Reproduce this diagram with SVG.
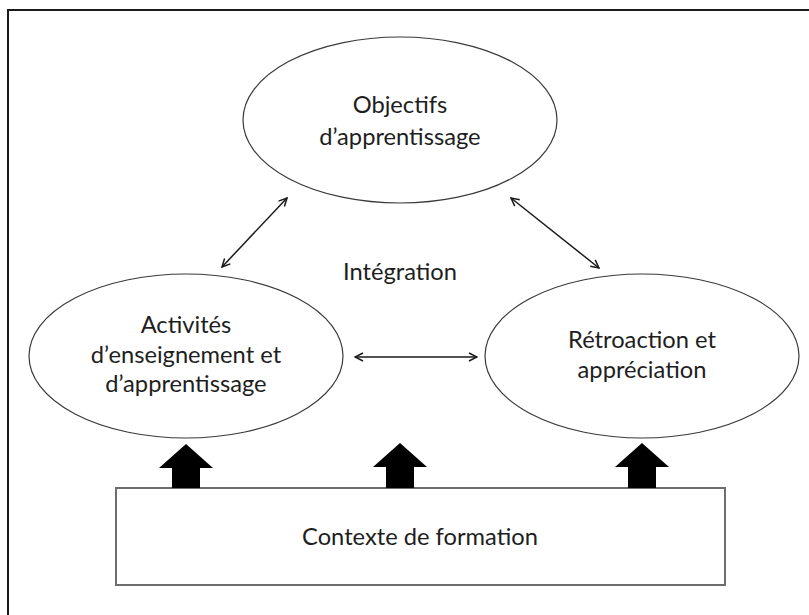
<svg xmlns="http://www.w3.org/2000/svg" width="809" height="615" viewBox="0 0 809 615">
  <style>
    .bg { fill: #ffffff; }
    .frame { fill: none; stroke: #1a1a1a; stroke-width: 2; }
    .oval { fill: #ffffff; stroke: #3a3a3a; stroke-width: 1.2; }
    .box { fill: #ffffff; stroke: #6e6e6e; stroke-width: 2; }
    .lbl { font-family: Lato, "Liberation Sans", sans-serif; font-size: 23.7px; fill: #1e1e1e; text-anchor: middle; }
    .link { stroke: #1a1a1a; stroke-width: 1.5; fill: none; marker-start: url(#head); marker-end: url(#head); }
    .push { fill: #000000; }
  </style>
  <defs>
    <marker id="head" viewBox="0 0 10 10" refX="9" refY="5" markerWidth="10" markerHeight="10" markerUnits="userSpaceOnUse" orient="auto-start-reverse">
      <path d="M1,1 L9,5 L1,9" fill="none" stroke="#1a1a1a" stroke-width="1.5"/>
    </marker>
  </defs>

  <rect class="bg" x="0" y="0" width="809" height="615"/>
  <!-- outer frame, open to the right and bottom edges -->
  <rect class="frame" x="8" y="10" width="820" height="630"/>

  <g id="objectifs">
    <ellipse class="oval" cx="400" cy="120" rx="157" ry="83"/>
    <text class="lbl" x="400" y="113">Objectifs</text>
    <text class="lbl" x="400" y="145">d’apprentissage</text>
  </g>

  <g id="activites">
    <ellipse class="oval" cx="186" cy="356" rx="157" ry="82"/>
    <text class="lbl" x="186" y="333">Activités</text>
    <text class="lbl" x="186" y="363">d’enseignement et</text>
    <text class="lbl" x="186" y="392">d’apprentissage</text>
  </g>

  <g id="retroaction">
    <ellipse class="oval" cx="642" cy="356" rx="157" ry="82"/>
    <text class="lbl" x="642" y="348">Rétroaction et</text>
    <text class="lbl" x="642" y="378">appréciation</text>
  </g>

  <g id="integration">
    <text class="lbl" x="400" y="280">Intégration</text>
  </g>

  <g id="contexte">
    <rect class="box" x="116" y="488" width="609" height="97"/>
    <text class="lbl" x="420" y="545">Contexte de formation</text>
  </g>

  <g id="connectors">
    <line class="link" x1="222" y1="267" x2="287" y2="198"/>
    <line class="link" x1="511" y1="198" x2="599" y2="268"/>
    <line class="link" x1="355" y1="357" x2="477" y2="357"/>
    <path class="push" d="M186,444 L213,468 L200,468 L200,488 L172,488 L172,468 L159,468 Z"/>
    <path class="push" d="M400,443 L427,467 L414,467 L414,488 L386,488 L386,467 L373,467 Z"/>
    <path class="push" d="M642,443 L669,467 L656,467 L656,488 L628,488 L628,467 L615,467 Z"/>
  </g>
</svg>
